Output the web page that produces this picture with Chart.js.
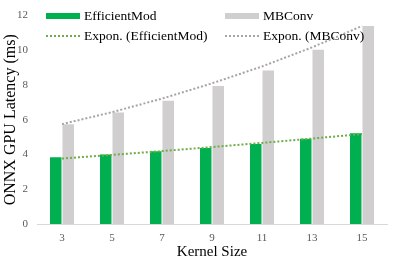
<!DOCTYPE html>
<html>
<head>
<meta charset="utf-8">
<script src="https://cdn.jsdelivr.net/npm/chart.js@4"></script>
<style>
    body { margin: 0; background: #fff; }
    #wrap { position: relative; width: 399px; height: 261px; }
    #legend { position: absolute; left: 0; top: 0; font-family: "Liberation Serif", serif; font-size: 13.5px; color: #000; }
    .item { position: absolute; white-space: nowrap; display: flex; align-items: center; }
    .box { display: inline-block; width: 34px; height: 6px; margin-right: 4px; }
    .dots { display: inline-block; width: 34px; height: 0; border-top: 2px dotted; margin-right: 4px; }
</style>
</head>
<body>
<div id="wrap">
    <canvas id="chart" width="399" height="261"></canvas>
    <div id="legend">
        <div class="item" style="left:46px; top:8px;"><span class="box" style="background:#00B050"></span>EfficientMod</div>
        <div class="item" style="left:225px; top:8px;"><span class="box" style="background:#D0CECE"></span>MBConv</div>
        <div class="item" style="left:46px; top:28px;"><span class="dots" style="border-color:#70AD47"></span>Expon. (EfficientMod)</div>
        <div class="item" style="left:225px; top:28px;"><span class="dots" style="border-color:#A5A5A5"></span>Expon. (MBConv)</div>
    </div>
</div>
<script>
const kernelSizes = ["3", "5", "7", "9", "11", "13", "15"];
const efficientMod = [3.85, 4.0, 4.19, 4.38, 4.61, 4.91, 5.22];
const mbConv = [5.75, 6.42, 7.1, 7.94, 8.84, 10.04, 11.4];
const efficientModTrend = [3.77, 3.98, 4.2, 4.43, 4.67, 4.92, 5.18];
const mbConvTrend = [5.75, 6.44, 7.22, 8.1, 9.07, 10.17, 11.4];

const serif = "'Liberation Serif', 'Times New Roman', serif";

const ctx = document.getElementById("chart").getContext("2d");
new Chart(ctx, {
    type: "bar",
    data: {
        labels: kernelSizes,
        datasets: [
            { type: "line", label: "Expon. (EfficientMod)", data: efficientModTrend, borderColor: "#70AD47", borderWidth: 2, borderDash: [2, 2], pointRadius: 0, fill: false, order: 0 },
            { type: "line", label: "Expon. (MBConv)", data: mbConvTrend, borderColor: "#A5A5A5", borderWidth: 2, borderDash: [2, 2], pointRadius: 0, fill: false, order: 0 },
            { label: "EfficientMod", data: efficientMod, backgroundColor: "#00B050", categoryPercentage: 0.5, barPercentage: 0.92, order: 1 },
            { label: "MBConv", data: mbConv, backgroundColor: "#D0CECE", categoryPercentage: 0.5, barPercentage: 0.92, order: 1 }
        ]
    },
    options: {
        responsive: false,
        animation: false,
        layout: { padding: { top: 9, right: 12, left: 1, bottom: 0 } },
        plugins: { legend: { display: false }, tooltip: { enabled: false } },
        scales: {
            x: {
                grid: { display: false, drawTicks: false },
                border: { color: "#D9D9D9", width: 1 },
                ticks: { color: "#595959", font: { family: serif, size: 11 }, padding: 8 },
                title: { display: true, text: "Kernel Size", color: "#000", font: { family: serif, size: 15 }, padding: 0 },
                afterFit: function (scale) { scale.height = 37; }
            },
            y: {
                min: 0,
                max: 12,
                ticks: { stepSize: 2, color: "#595959", font: { family: serif, size: 11 }, padding: 9 },
                grid: { display: false, drawTicks: false },
                border: { display: false },
                title: { display: true, text: "ONNX GPU Latency (ms)", color: "#000", font: { family: serif, size: 16 }, padding: 0 },
                afterFit: function (scale) { scale.width = 36; }
            }
        }
    }
});
</script>
</body>
</html>
